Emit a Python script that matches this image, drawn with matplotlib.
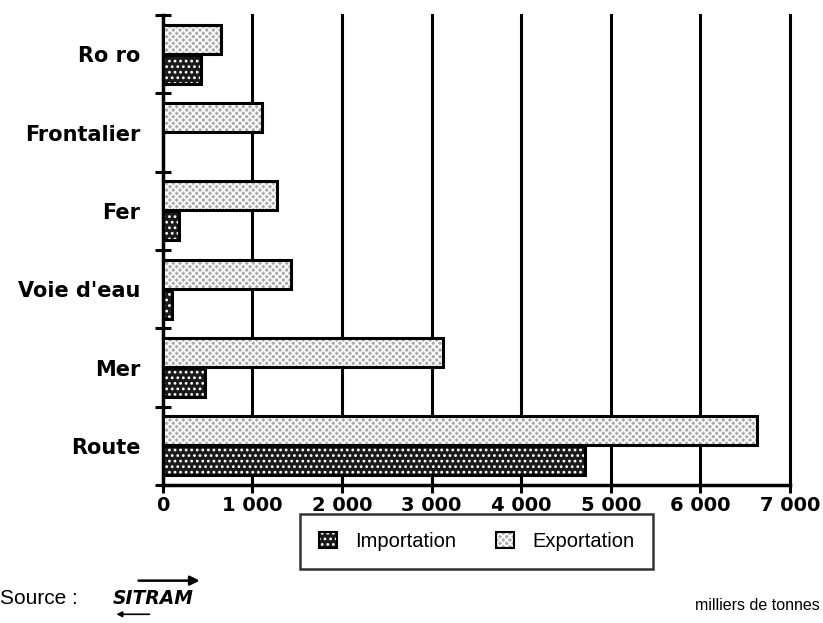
import numpy as np
import matplotlib
matplotlib.use("Agg")
import matplotlib.pyplot as plt
from matplotlib.patches import Patch, FancyArrowPatch
from matplotlib.legend_handler import HandlerTuple

categories = ["Route", "Mer", "Voie d'eau", "Fer", "Frontalier", "Ro ro"]
importation = [4710, 477, 105, 187, 0, 425]
exportation = [6630, 3130, 1430, 1280, 1110, 650]
xticks = [0, 1000, 2000, 3000, 4000, 5000, 6000, 7000]
xticklabels = ["0", "1 000", "2 000", "3 000", "4 000", "5 000", "6 000", "7 000"]

plt.rcParams['font.family'] = ['DejaVu Sans']
plt.rcParams['hatch.linewidth'] = 1.2

fig = plt.figure(figsize=(8.23, 6.23), dpi=100)
ax = fig.add_axes([0.1977, 0.2215, 0.7623, 0.7544])

y = np.arange(len(categories))
h = 0.37
exp_face = '#ababab'
imp_face = '#1a1a1a'

# fills with patterns, then black outlines on top
ax.barh(y + 0.69, exportation, height=h, color=exp_face, edgecolor='white',
        linewidth=0, hatch='xxxxx', zorder=3)
ax.barh(y + 0.31, importation, height=h, color=imp_face, edgecolor='white',
        linewidth=0, hatch='...', zorder=3)
ax.barh(y + 0.69, exportation, height=h, fill=False, edgecolor='black',
        linewidth=2.2, zorder=4)
ax.barh(y + 0.31, [v if v > 0 else np.nan for v in importation], height=h,
        fill=False, edgecolor='black', linewidth=2.2, zorder=4)

ax.set_xlim(0, 7000)
ax.set_ylim(0, 6)

for xv in xticks[1:]:
    ax.axvline(xv, color='black', linewidth=2.2, zorder=1, clip_on=False)

ax.set_xticks(xticks)
ax.set_xticklabels(xticklabels, fontsize=14, fontweight='bold')
ax.set_yticks(np.arange(0, 7))
ax.set_yticklabels([])
ax.set_yticks(y + 0.5, minor=True)
ax.set_yticklabels(categories, minor=True, fontsize=15, fontweight='bold')
ax.tick_params(axis='y', which='minor', length=0, pad=16)
ax.tick_params(axis='y', which='major', direction='inout', length=12, width=2.2)
ax.tick_params(axis='x', direction='inout', length=12, width=2.2, pad=2)

for s in ['top', 'right']:
    ax.spines[s].set_visible(False)
for s in ['left', 'bottom']:
    ax.spines[s].set_linewidth(2.5)

handles = [
    (Patch(facecolor=imp_face, edgecolor='white', hatch='...', linewidth=0),
     Patch(fill=False, edgecolor='black', linewidth=1.5)),
    (Patch(facecolor=exp_face, edgecolor='white', hatch='xxxxx', linewidth=0),
     Patch(fill=False, edgecolor='black', linewidth=1.5)),
]
leg = fig.legend(handles, ["Importation", "Exportation"], loc='center',
                 bbox_to_anchor=(0.579, 0.131), ncol=2,
                 handler_map={tuple: HandlerTuple(ndivide=1)},
                 frameon=True, fancybox=False, handlelength=0.9,
                 handleheight=0.9, handletextpad=0.9, columnspacing=2.0,
                 borderpad=0.9, borderaxespad=0,
                 prop={'family': 'Liberation Sans', 'size': 14.5})
leg.get_frame().set_edgecolor('black')
leg.get_frame().set_linewidth(1.8)

fig.text(0.0, 0.040, "Source :", fontsize=15, family='Liberation Sans',
         va='center', ha='left')
fig.text(0.137, 0.040, "SITRAM", fontsize=13.5, fontweight='bold',
         fontstyle='italic', va='center', ha='left')
fig.add_artist(FancyArrowPatch(
    (0.165, 0.068), (0.246, 0.068), transform=fig.transFigure,
    arrowstyle='-|>', mutation_scale=14, linewidth=1.8, color='black'))
fig.add_artist(FancyArrowPatch(
    (0.185, 0.014), (0.138, 0.014), transform=fig.transFigure,
    arrowstyle='-|>', mutation_scale=8, linewidth=1.2, color='black'))
fig.text(0.996, 0.028, "milliers de tonnes", fontsize=11.5,
         family='Liberation Sans', va='center', ha='right')

fig.savefig("out.png", dpi=100)
